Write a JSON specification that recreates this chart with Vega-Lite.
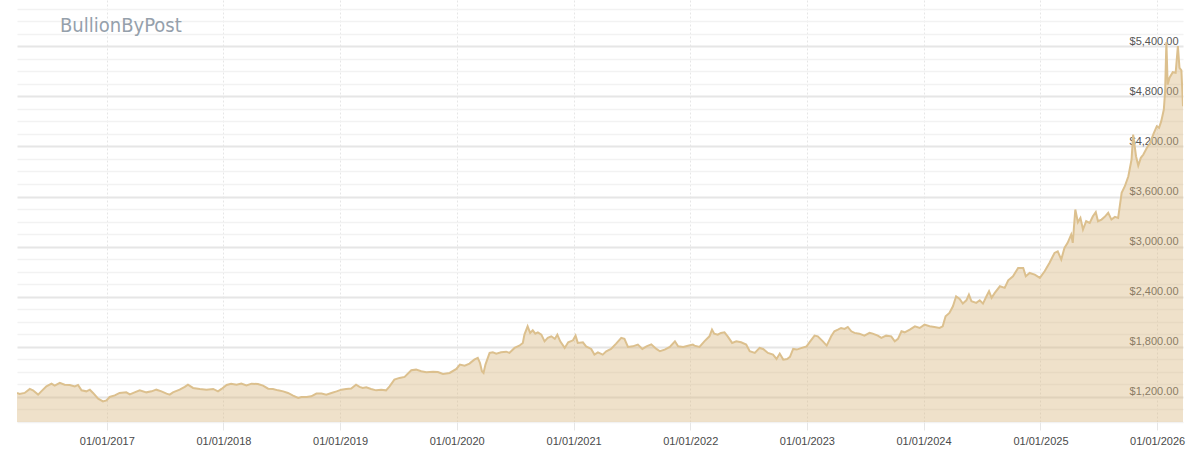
{
  "$schema": "https://vega.github.io/schema/vega-lite/v6.json",
  "width": 1166,
  "height": 422,
  "autosize": {"type": "none"},
  "padding": {"left": 17, "top": 0, "right": 17, "bottom": 37},
  "background": "white",
  "title": {"text": "BullionByPost", "anchor": "start", "orient": "top", "offset": -38, "dx": 43, "font": "DejaVu Sans Condensed", "fontSize": 20, "fontWeight": "normal", "color": "#95a0ab"},
  "config": {"view": {"stroke": null}},
  "data": {"values": [
    {"date": "2016-03-26", "price": 1248}, {"date": "2016-04-03", "price": 1236}, {"date": "2016-04-19", "price": 1248}, {"date": "2016-05-05", "price": 1296},
    {"date": "2016-05-15", "price": 1279}, {"date": "2016-05-31", "price": 1228}, {"date": "2016-06-10", "price": 1267}, {"date": "2016-06-26", "price": 1327},
    {"date": "2016-07-12", "price": 1359}, {"date": "2016-07-22", "price": 1335}, {"date": "2016-08-07", "price": 1368}, {"date": "2016-08-22", "price": 1347},
    {"date": "2016-09-07", "price": 1344}, {"date": "2016-09-23", "price": 1327}, {"date": "2016-10-03", "price": 1344}, {"date": "2016-10-14", "price": 1279},
    {"date": "2016-10-29", "price": 1267}, {"date": "2016-11-09", "price": 1287}, {"date": "2016-11-19", "price": 1248}, {"date": "2016-12-05", "price": 1180},
    {"date": "2016-12-20", "price": 1147}, {"date": "2016-12-31", "price": 1159}, {"date": "2017-01-10", "price": 1200}, {"date": "2017-01-26", "price": 1219},
    {"date": "2017-02-10", "price": 1248}, {"date": "2017-03-03", "price": 1255}, {"date": "2017-03-14", "price": 1231}, {"date": "2017-03-29", "price": 1255},
    {"date": "2017-04-14", "price": 1279}, {"date": "2017-05-05", "price": 1255}, {"date": "2017-05-21", "price": 1267}, {"date": "2017-06-05", "price": 1287},
    {"date": "2017-06-21", "price": 1267}, {"date": "2017-07-07", "price": 1240}, {"date": "2017-07-17", "price": 1228}, {"date": "2017-07-27", "price": 1255},
    {"date": "2017-08-17", "price": 1287}, {"date": "2017-09-02", "price": 1320}, {"date": "2017-09-12", "price": 1347}, {"date": "2017-09-28", "price": 1308},
    {"date": "2017-10-19", "price": 1296}, {"date": "2017-11-09", "price": 1287}, {"date": "2017-11-30", "price": 1296}, {"date": "2017-12-15", "price": 1267},
    {"date": "2017-12-26", "price": 1296}, {"date": "2018-01-11", "price": 1344}, {"date": "2018-01-25", "price": 1359}, {"date": "2018-02-11", "price": 1347},
    {"date": "2018-02-26", "price": 1360}, {"date": "2018-03-14", "price": 1339}, {"date": "2018-03-30", "price": 1359}, {"date": "2018-04-19", "price": 1355},
    {"date": "2018-05-05", "price": 1335}, {"date": "2018-05-21", "price": 1299}, {"date": "2018-06-05", "price": 1296}, {"date": "2018-06-21", "price": 1279},
    {"date": "2018-07-07", "price": 1267}, {"date": "2018-07-22", "price": 1248}, {"date": "2018-08-07", "price": 1216}, {"date": "2018-08-23", "price": 1188},
    {"date": "2018-09-02", "price": 1200}, {"date": "2018-09-18", "price": 1200}, {"date": "2018-10-03", "price": 1207}, {"date": "2018-10-19", "price": 1240},
    {"date": "2018-11-04", "price": 1240}, {"date": "2018-11-19", "price": 1228}, {"date": "2018-12-05", "price": 1248}, {"date": "2018-12-21", "price": 1267},
    {"date": "2019-01-05", "price": 1287}, {"date": "2019-01-20", "price": 1296}, {"date": "2019-02-05", "price": 1300}, {"date": "2019-02-20", "price": 1347},
    {"date": "2019-03-03", "price": 1320}, {"date": "2019-03-13", "price": 1308}, {"date": "2019-03-24", "price": 1315}, {"date": "2019-04-08", "price": 1296},
    {"date": "2019-04-24", "price": 1279}, {"date": "2019-05-10", "price": 1287}, {"date": "2019-05-25", "price": 1279}, {"date": "2019-06-05", "price": 1327},
    {"date": "2019-06-20", "price": 1407}, {"date": "2019-07-06", "price": 1428}, {"date": "2019-07-22", "price": 1440}, {"date": "2019-08-12", "price": 1519},
    {"date": "2019-08-27", "price": 1527}, {"date": "2019-09-12", "price": 1507}, {"date": "2019-09-28", "price": 1495}, {"date": "2019-10-19", "price": 1503},
    {"date": "2019-11-03", "price": 1499}, {"date": "2019-11-19", "price": 1475}, {"date": "2019-12-10", "price": 1487}, {"date": "2019-12-31", "price": 1535},
    {"date": "2020-01-11", "price": 1587}, {"date": "2020-01-26", "price": 1575}, {"date": "2020-02-10", "price": 1599}, {"date": "2020-02-25", "price": 1647},
    {"date": "2020-03-07", "price": 1667}, {"date": "2020-03-14", "price": 1607}, {"date": "2020-03-20", "price": 1507}, {"date": "2020-03-25", "price": 1487},
    {"date": "2020-03-31", "price": 1587}, {"date": "2020-04-13", "price": 1727}, {"date": "2020-04-23", "price": 1734}, {"date": "2020-05-04", "price": 1719},
    {"date": "2020-05-19", "price": 1734}, {"date": "2020-06-04", "price": 1742}, {"date": "2020-06-14", "price": 1727}, {"date": "2020-06-30", "price": 1787},
    {"date": "2020-07-15", "price": 1814}, {"date": "2020-07-26", "price": 1847}, {"date": "2020-07-31", "price": 1946}, {"date": "2020-08-10", "price": 2046},
    {"date": "2020-08-18", "price": 1967}, {"date": "2020-08-26", "price": 1998}, {"date": "2020-09-03", "price": 1958}, {"date": "2020-09-11", "price": 1974},
    {"date": "2020-09-22", "price": 1946}, {"date": "2020-10-02", "price": 1866}, {"date": "2020-10-12", "price": 1907}, {"date": "2020-10-23", "price": 1926},
    {"date": "2020-11-03", "price": 1895}, {"date": "2020-11-11", "price": 1946}, {"date": "2020-11-20", "price": 1866}, {"date": "2020-12-04", "price": 1787},
    {"date": "2020-12-15", "price": 1854}, {"date": "2020-12-30", "price": 1878}, {"date": "2021-01-07", "price": 1934}, {"date": "2021-01-14", "price": 1847},
    {"date": "2021-01-30", "price": 1854}, {"date": "2021-02-09", "price": 1806}, {"date": "2021-02-25", "price": 1775}, {"date": "2021-03-07", "price": 1707},
    {"date": "2021-03-18", "price": 1734}, {"date": "2021-04-02", "price": 1707}, {"date": "2021-04-13", "price": 1747}, {"date": "2021-04-28", "price": 1775},
    {"date": "2021-05-14", "price": 1839}, {"date": "2021-05-30", "price": 1907}, {"date": "2021-06-09", "price": 1895}, {"date": "2021-06-20", "price": 1799},
    {"date": "2021-07-05", "price": 1806}, {"date": "2021-07-21", "price": 1827}, {"date": "2021-08-04", "price": 1775}, {"date": "2021-08-17", "price": 1806},
    {"date": "2021-09-01", "price": 1830}, {"date": "2021-09-17", "price": 1775}, {"date": "2021-09-28", "price": 1747}, {"date": "2021-10-13", "price": 1767},
    {"date": "2021-10-29", "price": 1799}, {"date": "2021-11-14", "price": 1866}, {"date": "2021-11-24", "price": 1806}, {"date": "2021-12-10", "price": 1799},
    {"date": "2021-12-25", "price": 1814}, {"date": "2022-01-09", "price": 1827}, {"date": "2022-01-14", "price": 1814}, {"date": "2022-01-30", "price": 1799},
    {"date": "2022-02-14", "price": 1866}, {"date": "2022-03-02", "price": 1926}, {"date": "2022-03-10", "price": 2006}, {"date": "2022-03-17", "price": 1958},
    {"date": "2022-03-28", "price": 1946}, {"date": "2022-04-07", "price": 1967}, {"date": "2022-04-18", "price": 1974}, {"date": "2022-04-28", "price": 1926},
    {"date": "2022-05-12", "price": 1847}, {"date": "2022-05-25", "price": 1866}, {"date": "2022-06-09", "price": 1854}, {"date": "2022-06-25", "price": 1827},
    {"date": "2022-07-06", "price": 1747}, {"date": "2022-07-22", "price": 1727}, {"date": "2022-08-06", "price": 1787}, {"date": "2022-08-17", "price": 1775},
    {"date": "2022-09-01", "price": 1727}, {"date": "2022-09-17", "price": 1707}, {"date": "2022-09-28", "price": 1655}, {"date": "2022-10-08", "price": 1719},
    {"date": "2022-10-19", "price": 1647}, {"date": "2022-10-31", "price": 1655}, {"date": "2022-11-09", "price": 1679}, {"date": "2022-11-19", "price": 1775},
    {"date": "2022-11-30", "price": 1767}, {"date": "2022-12-16", "price": 1787}, {"date": "2022-12-31", "price": 1806}, {"date": "2023-01-09", "price": 1854},
    {"date": "2023-01-25", "price": 1934}, {"date": "2023-02-04", "price": 1926}, {"date": "2023-02-20", "price": 1866}, {"date": "2023-03-04", "price": 1815},
    {"date": "2023-03-18", "price": 1926}, {"date": "2023-03-28", "price": 1986}, {"date": "2023-04-08", "price": 2006}, {"date": "2023-04-18", "price": 2026},
    {"date": "2023-04-29", "price": 2014}, {"date": "2023-05-09", "price": 2038}, {"date": "2023-05-20", "price": 1986}, {"date": "2023-05-30", "price": 1967},
    {"date": "2023-06-14", "price": 1958}, {"date": "2023-06-30", "price": 1934}, {"date": "2023-07-16", "price": 1967}, {"date": "2023-07-26", "price": 1958},
    {"date": "2023-08-11", "price": 1934}, {"date": "2023-08-22", "price": 1907}, {"date": "2023-09-06", "price": 1934}, {"date": "2023-09-22", "price": 1926},
    {"date": "2023-10-03", "price": 1866}, {"date": "2023-10-13", "price": 1895}, {"date": "2023-10-24", "price": 1986}, {"date": "2023-11-03", "price": 1974},
    {"date": "2023-11-19", "price": 2006}, {"date": "2023-12-05", "price": 2046}, {"date": "2023-12-20", "price": 2026}, {"date": "2024-01-04", "price": 2066},
    {"date": "2024-01-20", "price": 2046}, {"date": "2024-02-04", "price": 2038}, {"date": "2024-02-20", "price": 2026}, {"date": "2024-03-01", "price": 2046},
    {"date": "2024-03-10", "price": 2166}, {"date": "2024-03-22", "price": 2206}, {"date": "2024-04-02", "price": 2285}, {"date": "2024-04-12", "price": 2405},
    {"date": "2024-04-23", "price": 2374}, {"date": "2024-05-03", "price": 2318}, {"date": "2024-05-14", "price": 2357}, {"date": "2024-05-22", "price": 2425},
    {"date": "2024-05-30", "price": 2345}, {"date": "2024-06-14", "price": 2326}, {"date": "2024-06-25", "price": 2357}, {"date": "2024-07-05", "price": 2318},
    {"date": "2024-07-16", "price": 2405}, {"date": "2024-07-24", "price": 2465}, {"date": "2024-08-01", "price": 2386}, {"date": "2024-08-11", "price": 2446},
    {"date": "2024-08-27", "price": 2525}, {"date": "2024-09-11", "price": 2506}, {"date": "2024-09-22", "price": 2597}, {"date": "2024-10-07", "price": 2645},
    {"date": "2024-10-23", "price": 2745}, {"date": "2024-11-08", "price": 2745}, {"date": "2024-11-16", "price": 2645}, {"date": "2024-11-28", "price": 2685},
    {"date": "2024-12-14", "price": 2665}, {"date": "2024-12-30", "price": 2626}, {"date": "2025-01-14", "price": 2705}, {"date": "2025-01-29", "price": 2805},
    {"date": "2025-02-14", "price": 2925}, {"date": "2025-02-24", "price": 2944}, {"date": "2025-03-07", "price": 2845}, {"date": "2025-03-17", "price": 2985},
    {"date": "2025-03-27", "price": 3045}, {"date": "2025-04-07", "price": 3144}, {"date": "2025-04-12", "price": 3045}, {"date": "2025-04-20", "price": 3444},
    {"date": "2025-04-28", "price": 3292}, {"date": "2025-05-06", "price": 3344}, {"date": "2025-05-14", "price": 3204}, {"date": "2025-05-24", "price": 3304},
    {"date": "2025-06-04", "price": 3284}, {"date": "2025-06-14", "price": 3364}, {"date": "2025-06-23", "price": 3412}, {"date": "2025-06-30", "price": 3304},
    {"date": "2025-07-11", "price": 3324}, {"date": "2025-07-21", "price": 3356}, {"date": "2025-08-01", "price": 3404}, {"date": "2025-08-11", "price": 3324},
    {"date": "2025-08-22", "price": 3356}, {"date": "2025-09-01", "price": 3344}, {"date": "2025-09-12", "price": 3644}, {"date": "2025-09-22", "price": 3723},
    {"date": "2025-10-03", "price": 3843}, {"date": "2025-10-13", "price": 4043}, {"date": "2025-10-18", "price": 4342}, {"date": "2025-10-27", "price": 4082},
    {"date": "2025-11-03", "price": 3971}, {"date": "2025-11-11", "price": 4063}, {"date": "2025-11-19", "price": 4103}, {"date": "2025-11-30", "price": 4183},
    {"date": "2025-12-10", "price": 4243}, {"date": "2025-12-21", "price": 4354}, {"date": "2025-12-31", "price": 4442}, {"date": "2026-01-07", "price": 4422},
    {"date": "2026-01-14", "price": 4502}, {"date": "2026-01-22", "price": 4642}, {"date": "2026-01-26", "price": 4860}, {"date": "2026-01-30", "price": 5450},
    {"date": "2026-02-03", "price": 4940}, {"date": "2026-02-09", "price": 5022}, {"date": "2026-02-19", "price": 5089}, {"date": "2026-02-28", "price": 5082},
    {"date": "2026-03-07", "price": 5400}, {"date": "2026-03-12", "price": 5140}, {"date": "2026-03-18", "price": 5110}, {"date": "2026-03-23", "price": 4681}
  ]},
  "mark": {"type": "area", "clip": true, "fill": "#d6b57a", "fillOpacity": 0.4, "line": {"stroke": "#dcc08e", "strokeWidth": 2}},
  "encoding": {
    "x": {
      "field": "date", "type": "temporal",
      "scale": {"type": "utc", "domain": ["2016-03-26", "2026-03-23"]},
      "axis": {"title": null, "format": "%d/%m/%Y", "tickCount": {"interval": "year", "step": 1}, "grid": true, "gridColor": "#e6e6e6", "gridDash": [2, 2], "ticks": true, "tickColor": "#e6e6e6", "tickSize": 8, "domain": false, "labelFont": "Liberation Sans", "labelFontSize": 11, "labelColor": "#4a4a4a", "labelPadding": 5, "labelFlush": false, "labelOverlap": false}
    },
    "y": {
      "field": "price", "type": "quantitative",
      "scale": {"domain": [900, 5953], "zero": false, "nice": false},
      "axis": {
        "orient": "right", "title": null,
        "values": [900, 1050, 1200, 1350, 1500, 1650, 1800, 1950, 2100, 2250, 2400, 2550, 2700, 2850, 3000, 3150, 3300, 3450, 3600, 3750, 3900, 4050, 4200, 4350, 4500, 4650, 4800, 4950, 5100, 5250, 5400, 5550, 5700, 5850],
        "labelExpr": "datum.value % 600 === 0 ? '$' + format(datum.value, ',.2f') : ''",
        "grid": true,
        "gridColor": {"condition": {"test": "datum.value % 600 === 0", "value": "#e6e6e6"}, "value": "#f2f2f2"},
        "gridWidth": {"condition": {"test": "datum.value % 600 === 0", "value": 2}, "value": 1.5},
        "ticks": false, "tickSize": 0, "domain": false,
        "labelAlign": "right", "labelPadding": -5, "labelBaseline": "alphabetic", "labelOffset": -2,
        "labelFont": "Liberation Sans", "labelFontSize": 11, "labelColor": "#555555", "labelOverlap": false, "labelBound": false
      }
    }
  }
}
